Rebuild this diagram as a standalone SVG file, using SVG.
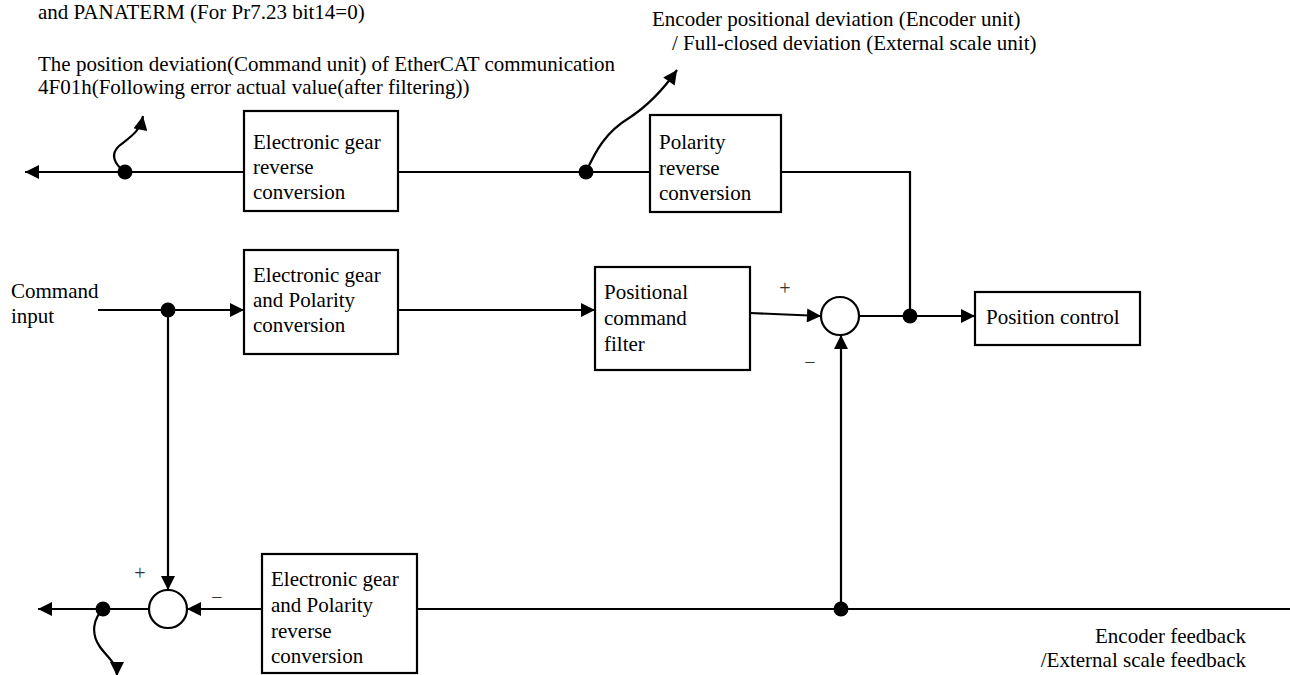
<svg xmlns="http://www.w3.org/2000/svg" width="1290" height="675" viewBox="0 0 1290 675">
<defs>
<style>
text{font-family:'Liberation Serif','Times New Roman','DejaVu Serif',serif;font-size:21px;fill:#000}
.box{fill:#fff;stroke:#000;stroke-width:2.2}
.ln{fill:none;stroke:#000;stroke-width:2.2}
.sum{fill:#fff;stroke:#000;stroke-width:2.2}
.dot{fill:#000}
.sgn{font-size:20px;fill:#333}
</style>
<marker id="ah" viewBox="0 0 10 10" refX="10" refY="5" markerWidth="16" markerHeight="14" markerUnits="userSpaceOnUse" orient="auto">
<path d="M0,0 L10,5 L0,10 z" fill="#000"/>
</marker>
</defs>
<rect width="1290" height="675" fill="#fff"/>
<g id="labels">
<text x="38" y="19">and PANATERM (For Pr7.23 bit14=0)</text>
<text x="38" y="71">The position deviation(Command unit) of EtherCAT communication</text>
<text x="38" y="94">4F01h(Following error actual value(after filtering))</text>
<text x="652" y="26">Encoder positional deviation (Encoder unit)</text>
<text x="672" y="50">/ Full-closed deviation (External scale unit)</text>
<text x="11" y="298">Command</text>
<text x="11" y="323">input</text>
<text x="1246" y="643" text-anchor="end">Encoder feedback</text>
<text x="1246" y="667" text-anchor="end">/External scale feedback</text>
<text class="sgn" x="785" y="295" text-anchor="middle">+</text>
<text class="sgn" x="810" y="369" text-anchor="middle">−</text>
<text class="sgn" x="140" y="580" text-anchor="middle">+</text>
<text class="sgn" x="217" y="604" text-anchor="middle">−</text>
</g>
<g id="connectors">
<path class="ln" d="M244,172 H25" marker-end="url(#ah)"/>
<path class="ln" d="M125,172 C114,164 110,154 119,146 C130,137 140,132 143,116" marker-end="url(#ah)"/>
<path class="ln" d="M398,172 H650"/>
<path class="ln" d="M586,172 C596,150 606,132 629,118 C649,105 663,90 677,70" marker-end="url(#ah)"/>
<path class="ln" d="M781,172 H910 V316"/>
<path class="ln" d="M98,310 H244" marker-end="url(#ah)"/>
<path class="ln" d="M398,310 H595" marker-end="url(#ah)"/>
<path class="ln" d="M750,313 L821,316" marker-end="url(#ah)"/>
<path class="ln" d="M859,316 H975" marker-end="url(#ah)"/>
<path class="ln" d="M168,310 V590" marker-end="url(#ah)"/>
<path class="ln" d="M841,609 V335" marker-end="url(#ah)"/>
<path class="ln" d="M1290,609 H417"/>
<path class="ln" d="M262,609 H187" marker-end="url(#ah)"/>
<path class="ln" d="M149,609 H38" marker-end="url(#ah)"/>
<path class="ln" d="M103,609 C94,618 90,633 100,647 C108,658 117,663 117,676" marker-end="url(#ah)"/>
<circle class="dot" cx="125" cy="172" r="7.5"/>
<circle class="dot" cx="586" cy="172" r="7.5"/>
<circle class="dot" cx="168" cy="310" r="7.5"/>
<circle class="dot" cx="910" cy="316" r="7.5"/>
<circle class="dot" cx="841" cy="609" r="7.5"/>
<circle class="dot" cx="103" cy="609" r="7.5"/>
</g>
<g id="gear-reverse">
<rect class="box" x="244" y="111" width="154" height="100"/>
<text x="253" y="149">Electronic gear</text>
<text x="253" y="174">reverse</text>
<text x="253" y="199">conversion</text>
</g>
<g id="polarity-reverse">
<rect class="box" x="650" y="115" width="131" height="97"/>
<text x="659" y="149">Polarity</text>
<text x="659" y="175">reverse</text>
<text x="659" y="200">conversion</text>
</g>
<g id="gear-polarity">
<rect class="box" x="244" y="250" width="154" height="104"/>
<text x="253" y="282">Electronic gear</text>
<text x="253" y="307">and Polarity</text>
<text x="253" y="332">conversion</text>
</g>
<g id="cmd-filter">
<rect class="box" x="595" y="267" width="155" height="103"/>
<text x="604" y="299">Positional</text>
<text x="604" y="325">command</text>
<text x="604" y="351">filter</text>
</g>
<g id="sum-top">
<circle class="sum" cx="840" cy="316" r="19"/>
</g>
<g id="position-control">
<rect class="box" x="975" y="292" width="165" height="53"/>
<text x="986" y="324">Position control</text>
</g>
<g id="sum-bottom">
<circle class="sum" cx="168" cy="609" r="19"/>
</g>
<g id="gear-polarity-reverse">
<rect class="box" x="262" y="554" width="155" height="119"/>
<text x="271" y="586">Electronic gear</text>
<text x="271" y="612">and Polarity</text>
<text x="271" y="638">reverse</text>
<text x="271" y="663">conversion</text>
</g>
</svg>
